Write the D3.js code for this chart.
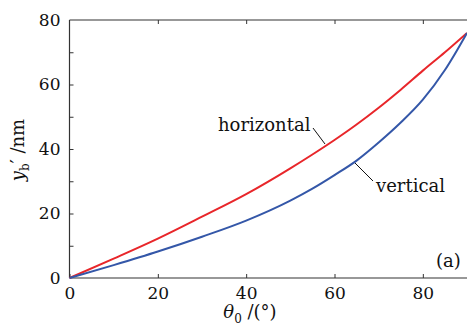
<!DOCTYPE html>
<html><head><meta charset="utf-8">
<script src="https://cdn.jsdelivr.net/npm/d3@7/dist/d3.min.js"></script>
<style>body{margin:0;background:#fff}svg{display:block}text{font-family:"DejaVu Serif",serif;fill:#111}</style>
</head><body><svg id="c" width="467" height="325"></svg>
<script>
const theta = [0, 10, 20, 30, 40, 50, 55, 60, 65, 70, 75, 80, 85, 90];
const horizontal = [0, 6.0, 12.2, 19.0, 26.0, 34.0, 38.3, 42.8, 47.6, 52.8, 58.4, 64.3, 70.0, 76];
const vertical = [0, 4.0, 8.2, 12.8, 17.8, 24.0, 27.7, 31.9, 36.4, 42.0, 48.2, 55.3, 64.5, 76];
const xTicks = [0, 20, 40, 60, 80];
const yTicks = [0, 20, 40, 60, 80];
const yMinor = [10, 20, 30, 40, 50, 60, 70];

const svg = d3.select("#c");
const x = d3.scaleLinear().domain([0, 90]).range([69.5, 467]);
const y = d3.scaleLinear().domain([0, 80]).range([278, 20]);
const ax = "#333";

// frame lines
svg.append("line").attr("x1", x(0)).attr("x2", 467).attr("y1", y(80)).attr("y2", y(80)).attr("stroke", ax).attr("stroke-width", 1.2);
svg.append("line").attr("x1", x(0)).attr("x2", 467).attr("y1", y(0)).attr("y2", y(0)).attr("stroke", ax).attr("stroke-width", 1.2);
svg.append("line").attr("x1", x(0)).attr("x2", x(0)).attr("y1", y(0)).attr("y2", y(80)).attr("stroke", ax).attr("stroke-width", 1.2);

// bottom axis
const gx = svg.append("g").attr("transform", `translate(0,${y(0)})`)
  .call(d3.axisBottom(x).tickValues(xTicks).tickSize(-4).tickPadding(9).tickFormat(d3.format("d")));
gx.select(".domain").remove();
gx.selectAll("line").attr("stroke", ax);
gx.selectAll("text").attr("font-size", 17).style("font-family", '"DejaVu Serif",serif').attr("fill", "#111");
// top ticks
svg.append("g").attr("transform", `translate(0,${y(80)})`)
  .call(d3.axisTop(x).tickValues(xTicks.slice(1)).tickSize(-4).tickFormat(""))
  .call(g => { g.select(".domain").remove(); g.selectAll("line").attr("stroke", ax); });

// left axis
const gy = svg.append("g").attr("transform", `translate(${x(0)},0)`)
  .call(d3.axisLeft(y).tickValues(yTicks).tickSize(0).tickPadding(9).tickFormat(d3.format("d")));
gy.select(".domain").remove();
gy.selectAll("text").attr("font-size", 17).style("font-family", '"DejaVu Serif",serif').attr("fill", "#111");
svg.append("g").attr("transform", `translate(${x(0)},0)`)
  .call(d3.axisLeft(y).tickValues(yMinor).tickSize(-4).tickFormat(""))
  .call(g => { g.select(".domain").remove(); g.selectAll("line").attr("stroke", ax); });

// curves
const line = d3.line().x((d, i) => x(theta[i])).y(d => y(d)).curve(d3.curveMonotoneX);
svg.append("path").attr("d", line(horizontal)).attr("fill", "none").attr("stroke", "#e8262a").attr("stroke-width", 2);
svg.append("path").attr("d", line(vertical)).attr("fill", "none").attr("stroke", "#3457a8").attr("stroke-width", 2);

// annotations
svg.append("text").attr("x", 218).attr("y", 131).attr("font-size", 18).text("horizontal");
svg.append("line").attr("x1", 313).attr("y1", 128).attr("x2", 325).attr("y2", 144).attr("stroke", "#111").attr("stroke-width", 1);
svg.append("text").attr("x", 376).attr("y", 192).attr("font-size", 18).text("vertical");
svg.append("line").attr("x1", 355).attr("y1", 163).attr("x2", 373).attr("y2", 181).attr("stroke", "#111").attr("stroke-width", 1);
svg.append("text").attr("x", 436).attr("y", 267).attr("font-size", 18).text("(a)");

// axis titles
const xt = svg.append("text").attr("x", 250).attr("y", 318).attr("text-anchor", "middle").attr("font-size", 18);
xt.append("tspan").attr("font-style", "italic").text("θ");
xt.append("tspan").attr("font-size", 12).attr("dy", 5).text("0");
xt.append("tspan").attr("dy", -5).text(" /(°)");

const yt = svg.append("text").attr("transform", "translate(24,150) rotate(-90)").attr("text-anchor", "middle").attr("font-size", 18);
yt.append("tspan").attr("font-style", "italic").text("y");
yt.append("tspan").attr("font-size", 12).attr("dy", 5).text("b");
yt.append("tspan").attr("dy", -5).text("′ /nm");
</script></body></html>
